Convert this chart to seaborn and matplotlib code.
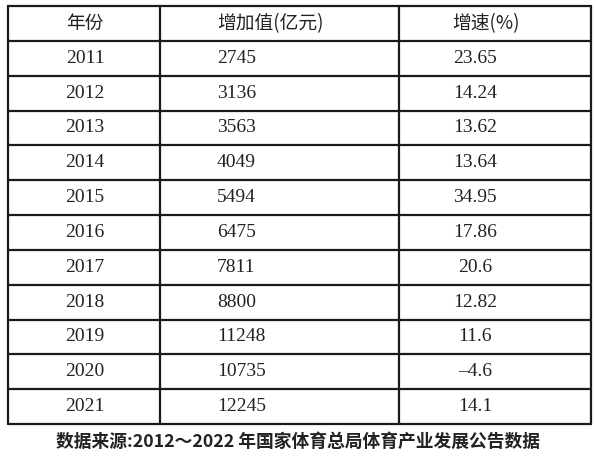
import matplotlib
matplotlib.use("Agg")
import matplotlib.pyplot as plt
import seaborn as sns

headers = ["年份", "增加值(亿元)", "增速(%)"]
years = ["2011", "2012", "2013", "2014", "2015", "2016", "2017", "2018", "2019", "2020", "2021"]
added_value = ["2745", "3136", "3563", "4049", "5494", "6475", "7811", "8800", "11248", "10735", "12245"]
growth = ["23.65", "14.24", "13.62", "13.64", "34.95", "17.86", "20.6", "12.82", "11.6", "\u20134.6", "14.1"]
source = "数据来源:2012～2022 年国家体育总局体育产业发展公告数据"

sns.set_theme(style="white")
fonts = ["Liberation Serif", "Noto Sans CJK SC", "DejaVu Sans"]
cjk = ["Noto Sans CJK SC", "DejaVu Sans"]

fig = plt.figure(figsize=(5.96, 4.62), dpi=100)
ax = fig.add_axes([0, 0, 1, 1])
ax.set_xlim(0, 596)
ax.set_ylim(462, 0)
ax.axis("off")

left, right, top, bottom = 8, 591, 6, 424
col_lines = [160, 399]
n_rows = len(years) + 1
row_h = (bottom - top) / n_rows

# grid
for i in range(n_rows + 1):
    ax.plot([left, right], [top + i * row_h] * 2, color="#1a1a1a", lw=1.6)
for x in [left] + col_lines + [right]:
    ax.plot([x, x], [top, bottom], color="#1a1a1a", lw=1.6)

# header
hy = top + row_h / 2
ax.text(85, hy, headers[0], ha="center", va="center", fontsize=13.5, family=cjk, color="#222")
ax.text(217, hy, headers[1], ha="left", va="center", fontsize=13.5, family=cjk, color="#222")
ax.text(452, hy, headers[2], ha="left", va="center", fontsize=13.5, family=cjk, color="#222")

for i, (y, v, g) in enumerate(zip(years, added_value, growth)):
    cy = top + (i + 1.5) * row_h
    ax.text(85, cy, y, ha="center", va="center", fontsize=14, family=fonts, color="#222")
    ax.text(217, cy, v, ha="left", va="center", fontsize=14, family=fonts, color="#222")
    ax.text(475, cy, g, ha="center", va="center", fontsize=14, family=fonts, color="#222")

ax.text(298, 442, source, ha="center", va="center", fontsize=12.8, family=cjk,
        fontweight="bold", color="#222")

fig.savefig("out.png", dpi=100)
